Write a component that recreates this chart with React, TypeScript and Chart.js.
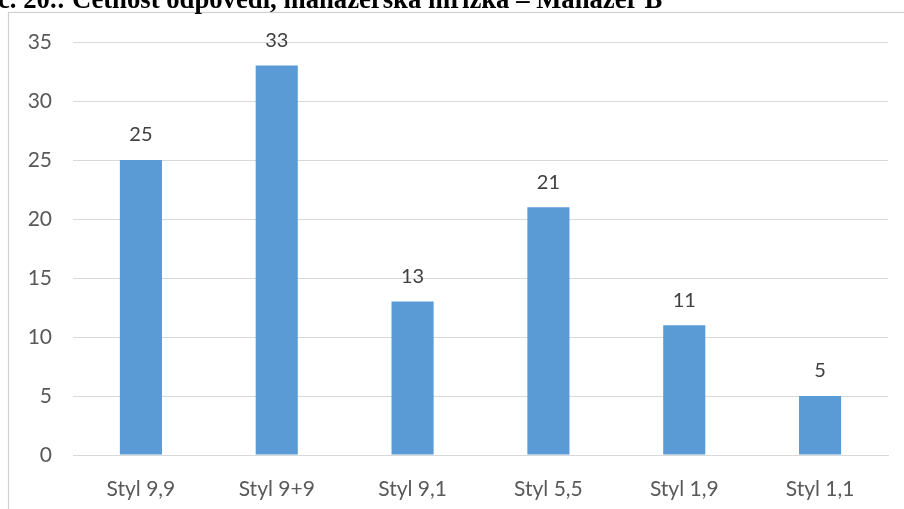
import React, { useEffect, useRef } from "react";
import { Chart, registerables } from "chart.js";

Chart.register(...registerables);

const categories = ["Styl 9,9", "Styl 9+9", "Styl 9,1", "Styl 5,5", "Styl 1,9", "Styl 1,1"];
const values = [25, 33, 13, 21, 11, 5];
const yTicks = [0, 5, 10, 15, 20, 25, 30, 35];
const titleText = "č. 20.: Četnost odpovědí, manažerská mřížka – Manažer B";

const valueLabels = {
  id: "valueLabels",
  afterDatasetsDraw(chart: any) {
    const ctx = chart.ctx;
    const meta = chart.getDatasetMeta(0);
    ctx.save();
    ctx.font = "20px Lato";
    ctx.fillStyle = "#404040";
    ctx.textAlign = "center";
    ctx.textBaseline = "middle";
    meta.data.forEach((bar: any, i: number) => {
      ctx.fillText(String(chart.data.datasets[0].data[i]), bar.x, bar.y - 25);
    });
    ctx.restore();
  },
};

export default function App() {
  const ref = useRef<HTMLCanvasElement | null>(null);
  useEffect(() => {
    if (!ref.current) return;
    const chart = new Chart(ref.current, {
      type: "bar",
      data: {
        labels: categories,
        datasets: [
          {
            data: values,
            backgroundColor: "#5B9BD5",
            borderColor: "#5B9BD5",
            borderWidth: 0,
            barPercentage: 1,
            categoryPercentage: 0.31,
          },
        ],
      },
      plugins: [valueLabels],
      options: {
        animation: false,
        responsive: false,
        maintainAspectRatio: false,
        devicePixelRatio: 1,
        layout: { padding: { top: 42, right: 16, bottom: 0, left: 0 } },
        plugins: { legend: { display: false }, tooltip: { enabled: false }, title: { display: false } },
        scales: {
          x: {
            grid: { display: false, drawTicks: false },
            border: { display: true, color: "#D9D9D9", width: 1 },
            ticks: { color: "#595959", font: { family: "Lato", size: 21 }, padding: 22 },
            afterFit: (s: any) => { s.height = 54; },
          },
          y: {
            min: 0,
            max: 35,
            afterBuildTicks: (s: any) => { s.ticks = yTicks.map((v) => ({ value: v })); },
            grid: { color: "#D9D9D9", lineWidth: 1, drawTicks: false },
            border: { display: false },
            ticks: { color: "#595959", font: { family: "Lato", size: 21 }, padding: 21 },
            afterFit: (s: any) => { s.width = 73; },
          },
        },
      },
    });
    return () => chart.destroy();
  }, []);

  return (
    <div style={{ position: "fixed", left: 0, top: 0, width: 904, height: 509, overflow: "hidden", background: "#fff" }}>
      <div
        style={{
          position: "absolute",
          left: 8,
          top: 12,
          width: 1000,
          height: 600,
          border: "1px solid #CFCFCF",
          boxShadow: "0 0 1px #E0E0E0",
        }}
      />
      <canvas ref={ref} width={904} height={509} style={{ position: "absolute", left: 0, top: 0 }} />
      <div
        style={{
          position: "absolute",
          left: -2,
          top: -16,
          fontFamily: "'Liberation Serif', 'Times New Roman', serif",
          fontWeight: "bold",
          fontSize: 26.7,
          lineHeight: "30px",
          whiteSpace: "nowrap",
          color: "#000",
        }}
      >
        {titleText}
      </div>
    </div>
  );
}
